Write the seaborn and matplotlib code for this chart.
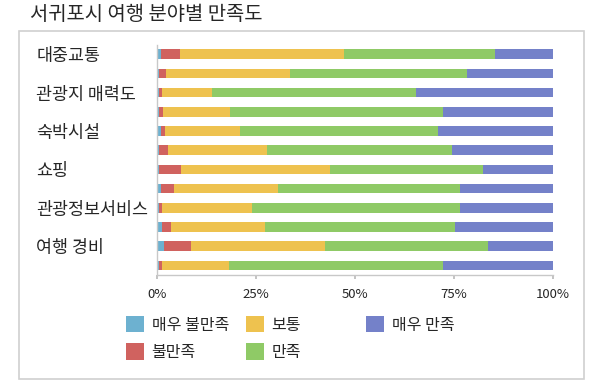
import numpy as np
import pandas as pd
import matplotlib
matplotlib.use("Agg")
import matplotlib.pyplot as plt
from matplotlib.patches import Patch, Rectangle
import seaborn as sns

sns.set_theme(style="white")
plt.rcParams['font.family'] = ['Noto Sans CJK KR', 'DejaVu Sans']

title = "서귀포시 여행 분야별 만족도"
row_labels = ["대중교통", "", "관광지 매력도", "", "숙박시설", "",
              "쇼핑", "", "관광정보서비스", "", "여행 경비", ""]
series_names = ["매우 불만족", "불만족", "보통", "만족", "매우 만족"]
very_dissatisfied = [1.1, 0.6, 0.6, 0.6, 0.9, 0.6, 0.4, 0.9, 0.5, 1.2, 1.8, 0.6]
dissatisfied      = [4.8, 1.7, 0.7, 0.9, 1.0, 2.2, 5.7, 3.5, 0.8, 2.3, 6.7, 0.7]
neutral           = [41.3, 31.2, 12.6, 17.0, 19.1, 24.9, 37.6, 26.1, 22.7, 23.8, 34.0, 16.9]
satisfied         = [38.1, 44.8, 51.6, 53.7, 50.0, 46.7, 38.7, 46.0, 52.4, 48.0, 41.0, 54.1]
very_satisfied    = [14.7, 21.7, 34.5, 27.8, 29.0, 25.6, 17.6, 23.5, 23.6, 24.7, 16.5, 27.7]
x_ticks = [0, 25, 50, 75, 100]
x_tick_labels = ["0%", "25%", "50%", "75%", "100%"]

colors = ["#6DB1D0", "#D0625F", "#EEC24F", "#8FCA66", "#7481C9"]

series = [very_dissatisfied, dissatisfied, neutral, satisfied, very_satisfied]
arr = np.array(series, dtype=float)
shares = arr / arr.sum(axis=0) * 100
cum = np.cumsum(shares, axis=0)

df = pd.DataFrame({"row": np.arange(len(row_labels))})
for i, name in enumerate(series_names):
    df[name] = cum[i]

fig = plt.figure(figsize=(6, 3.88), dpi=100)
ax = fig.add_axes([157/600, 1 - 275/388, 396/600, (275 - 44.5)/388])

for i in range(len(series_names) - 1, -1, -1):
    sns.barplot(data=df, x=series_names[i], y="row", orient="h",
                color=colors[i], saturation=1, width=0.5, ax=ax,
                edgecolor="none", linewidth=0)

ax.set_xlim(0, 100)
ax.set_xticks(x_ticks)
ax.set_xticklabels(x_tick_labels, fontsize=9.5)
ax.set_yticks(np.arange(len(row_labels)))
ax.set_yticklabels(row_labels, fontsize=12.5, ha="left")
ax.tick_params(axis="y", length=0, pad=87)
ax.tick_params(axis="x", length=3, color="#BBBBBB", pad=6, direction="out", bottom=True)
ax.set_xlabel("")
ax.set_ylabel("")
for side in ["top", "right"]:
    ax.spines[side].set_visible(False)
for side in ["left", "bottom"]:
    ax.spines[side].set_color("#C8C8C8")
    ax.spines[side].set_linewidth(1)

# outer frame
fig.patches.append(Rectangle((19/600, 1 - 379/388), (584 - 19)/600, (379 - 31)/388,
                             transform=fig.transFigure, fill=False,
                             edgecolor="#D0D0D0", linewidth=1.2))

fig.text(30/600, 1 - 15/388, title, fontsize=14.3, va="center", ha="left")

handles = [Patch(facecolor=c, edgecolor="none", label=n) for c, n in zip(colors, series_names)]
col_groups = [[0, 1], [2, 3], [4]]
col_x = [126, 246, 366]
for xs, grp in zip(col_x, col_groups):
    fig.legend(handles=[handles[k] for k in grp], loc="upper left",
               bbox_to_anchor=(xs/600, 1 - 316/388), frameon=False,
               fontsize=11.5, handlelength=1.15, handleheight=1.2,
               handletextpad=0.45, borderaxespad=0, borderpad=0,
               labelspacing=0.6)

fig.savefig("out.png", dpi=100)
